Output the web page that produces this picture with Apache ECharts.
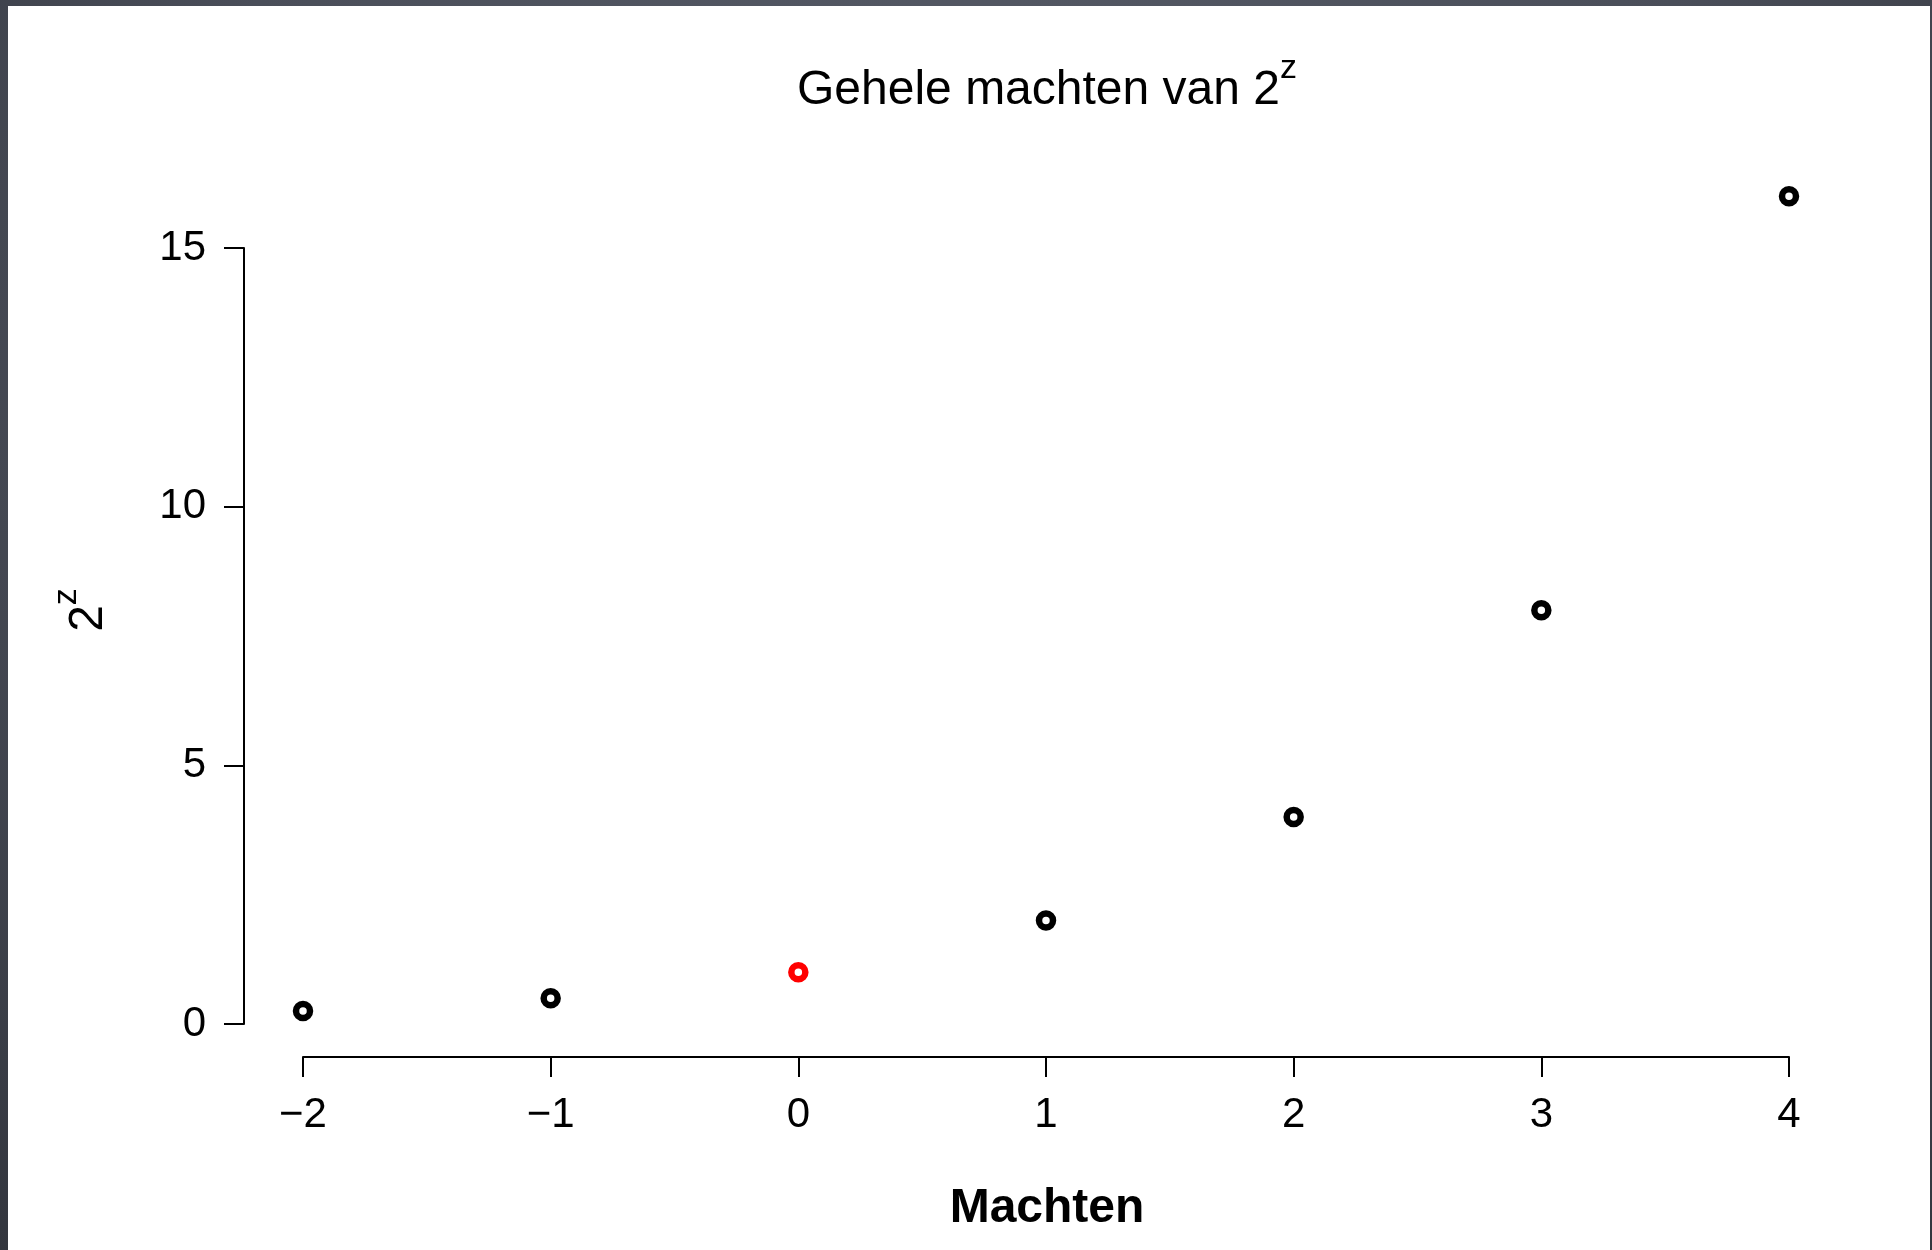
<!DOCTYPE html>
<html>
<head>
<meta charset="utf-8">
<title>Gehele machten van 2</title>
<script src="https://cdn.jsdelivr.net/npm/echarts@6/dist/echarts.min.js"></script>
<style>
  html, body { margin: 0; padding: 0; width: 1932px; height: 1250px; overflow: hidden; }
  body { background: radial-gradient(ellipse at 50% 30%, #5a5f6b 0%, #4a4e59 60%, #33363e 100%); }
  #sheet { position: absolute; left: 8px; top: 6px; width: 1922px; height: 1244px; background: #ffffff; }
  #chart { position: absolute; left: 0; top: 0; width: 1932px; height: 1250px; }
</style>
</head>
<body>
<div id="sheet"></div>
<div id="chart"></div>
<script>
// Integer exponents z and the matching powers 2^z
const exponents = [-2, -1, 0, 1, 2, 3, 4];
const powers = [0.25, 0.5, 1, 2, 4, 8, 16];
const highlightExponent = 0;          // 2^0 is drawn in red

// Axis extents and tick steps
const xRange = [-2, 4];
const xStep = 1;
const yRange = [0, 15];
const yStep = 5;

const FONT = "'Liberation Sans', Arial, Helvetica, sans-serif";

const points = exponents.map((z, i) => {
  const item = { value: [z, powers[i]] };
  if (z === highlightExponent) {
    item.itemStyle = { borderColor: '#ff0000' };
  }
  return item;
});

const minus = v => String(v).replace('-', '\u2212');

const chart = echarts.init(document.getElementById('chart'), null, { renderer: 'canvas' });

chart.setOption({
  backgroundColor: 'transparent',
  animation: false,
  grid: { left: 303, right: 143, top: 248, bottom: 226, containLabel: false },
  xAxis: {
    type: 'value',
    min: xRange[0], max: xRange[1], interval: xStep,
    offset: 33,
    axisLine: { show: true, onZero: false, lineStyle: { color: '#000', width: 2 } },
    axisTick: { show: true, length: 20, lineStyle: { color: '#000', width: 2 } },
    axisLabel: { color: '#000', fontSize: 42, fontFamily: FONT, margin: 37, formatter: minus },
    splitLine: { show: false }
  },
  yAxis: {
    type: 'value',
    min: yRange[0], max: yRange[1], interval: yStep,
    offset: 59,
    axisLine: { show: true, onZero: false, lineStyle: { color: '#000', width: 2 } },
    axisTick: { show: true, length: 20, lineStyle: { color: '#000', width: 2 } },
    axisLabel: { color: '#000', fontSize: 42, fontFamily: FONT, margin: 38, padding: [5, 0, 0, 0], formatter: minus },
    splitLine: { show: false }
  },
  series: [{
    type: 'scatter',
    clip: false,
    symbol: 'circle',
    symbolSize: 14,
    itemStyle: { color: '#ffffff', borderColor: '#000000', borderWidth: 6.5, opacity: 1 },
    emphasis: { disabled: true },
    data: points
  }],
  graphic: [
    {
      type: 'text',
      x: 1047, y: 91,
      style: {
        text: '{a|Gehele machten van 2}{b|z}',
        align: 'center', verticalAlign: 'middle',
        rich: {
          a: { fontFamily: FONT, fontSize: 48, lineHeight: 78, fill: '#000' },
          b: { fontFamily: FONT, fontSize: 34, lineHeight: 34, verticalAlign: 'top', fill: '#000' }
        }
      }
    },
    {
      type: 'text',
      x: 1047, y: 1209,
      style: {
        text: 'Machten',
        align: 'center', verticalAlign: 'middle',
        font: "bold 48px 'Liberation Sans', Arial, Helvetica, sans-serif",
        fill: '#000'
      }
    },
    {
      type: 'text',
      x: 89, y: 610,
      rotation: Math.PI / 2,
      style: {
        text: '{a|2}{b|z}',
        align: 'center', verticalAlign: 'middle',
        rich: {
          a: { fontFamily: FONT, fontSize: 48, lineHeight: 78, fill: '#000' },
          b: { fontFamily: FONT, fontSize: 34, lineHeight: 34, verticalAlign: 'top', fill: '#000' }
        }
      }
    }
  ]
});
</script>
</body>
</html>
